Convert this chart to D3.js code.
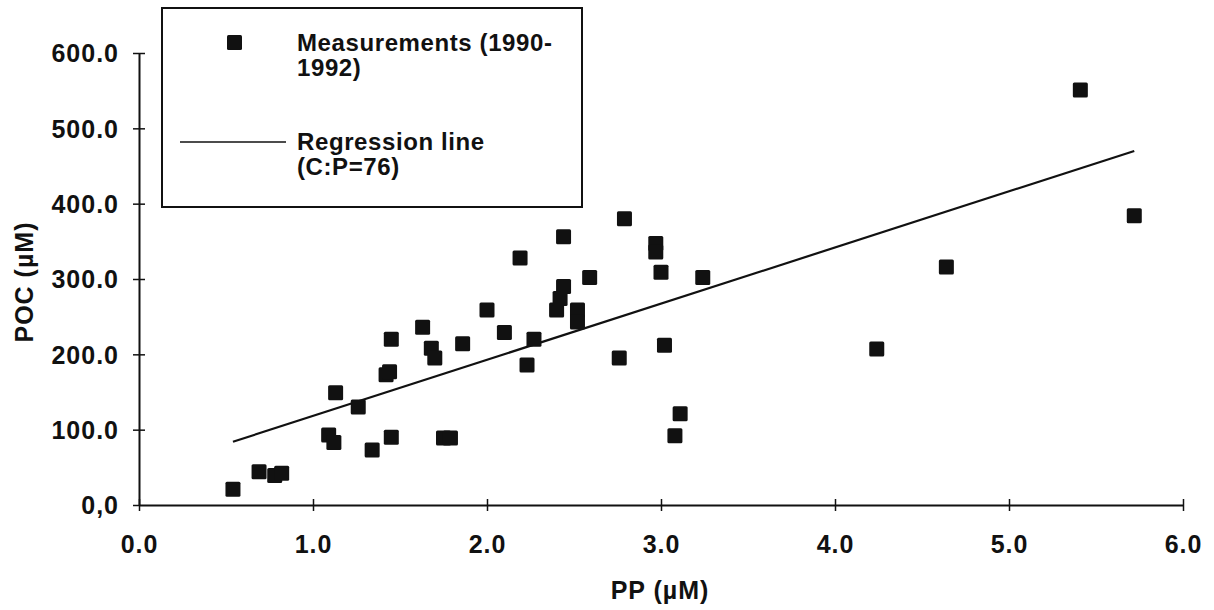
<!DOCTYPE html>
<html>
<head>
<meta charset="utf-8">
<script src="https://cdn.jsdelivr.net/npm/d3@7"></script>
<style>
  body { margin: 0; background: #fff; }
  text { font-family: "Liberation Sans", Arial, sans-serif; font-weight: bold; fill: #111; }
</style>
</head>
<body>
<div id="vis"></div>
<script>
const width = 1214;
const height = 610;

// measured PP (µM) and POC (µM), 1990-1992
const pp  = [0.54, 0.69, 0.78, 0.82, 1.09, 1.12, 1.13, 1.26, 1.34, 1.42, 1.44, 1.45, 1.45, 1.63, 1.68,
             1.70, 1.75, 1.79, 1.86, 2.00, 2.10, 2.19, 2.23, 2.27, 2.40, 2.42, 2.44, 2.44, 2.52, 2.52,
             2.59, 2.79, 2.76, 2.97, 2.97, 3.00, 3.02, 3.08, 3.11, 3.24, 4.24, 4.64, 5.41, 5.72];
const poc = [21, 44, 39, 42, 93, 83, 149, 130, 73, 173, 177, 90, 220, 236, 208,
             195, 89, 89, 214, 259, 229, 328, 186, 220, 259, 274, 290, 356, 259, 243,
             302, 380, 195, 347, 336, 309, 212, 92, 121, 302, 207, 316, 551, 384];

// regression line end points (C:P=76)
const regX = [0.54, 5.72];
const regY = [84, 470];

const xTicks = [0, 1, 2, 3, 4, 5, 6];
const xTickLabels = ["0.0", "1.0", "2.0", "3.0", "4.0", "5.0", "6.0"];
const yTicks = [0, 100, 200, 300, 400, 500, 600];
const yTickLabels = ["0,0", "100.0", "200.0", "300.0", "400.0", "500.0", "600.0"];

const svg = d3.select("#vis").append("svg")
  .attr("width", width)
  .attr("height", height);

const x = d3.scaleLinear().domain([0, 6]).range([139, 1183]);
const y = d3.scaleLinear().domain([0, 600]).range([505, 53]);

// axes (ticks cross the axis line)
const xAxis = svg.append("g")
  .attr("transform", `translate(0,${y(0)})`)
  .call(d3.axisBottom(x).tickValues(xTicks).tickFormat((d, i) => xTickLabels[i]).tickSize(6).tickSizeOuter(0));
xAxis.selectAll(".tick line").attr("y1", -6);
xAxis.selectAll(".tick text").attr("dy", 0).attr("y", 48)
  .style("font-size", "25px").style("letter-spacing", "1px");

const yAxis = svg.append("g")
  .attr("transform", `translate(${x(0)},0)`)
  .call(d3.axisLeft(y).tickValues(yTicks).tickFormat((d, i) => yTickLabels[i]).tickSize(6).tickSizeOuter(0));
yAxis.selectAll(".tick line").attr("x1", 6);
yAxis.selectAll(".tick text").attr("x", -20).attr("dy", "0.35em")
  .style("font-size", "25px").style("letter-spacing", "1px");
yAxis.select(".tick:first-of-type line").attr("x1", 0);

svg.selectAll(".domain").attr("stroke", "#111").attr("stroke-width", 2);
svg.selectAll(".tick line").attr("stroke", "#111").attr("stroke-width", 1.5);

// axis titles
svg.append("text")
  .attr("x", 660).attr("y", 599)
  .attr("text-anchor", "middle")
  .style("font-size", "25px").style("letter-spacing", "1px")
  .text("PP (µM)");

svg.append("text")
  .attr("transform", "translate(33,282) rotate(-90)")
  .attr("text-anchor", "middle")
  .style("font-size", "25px").style("letter-spacing", "1px")
  .text("POC (µM)");

// regression line
svg.append("line")
  .attr("x1", x(regX[0])).attr("y1", y(regY[0]))
  .attr("x2", x(regX[1])).attr("y2", y(regY[1]))
  .attr("stroke", "#111").attr("stroke-width", 2.2);

// measurements
const ms = 15;
svg.append("g").selectAll("rect")
  .data(pp.map((d, i) => [d, poc[i]]))
  .join("rect")
  .attr("x", d => x(d[0]) - ms / 2)
  .attr("y", d => y(d[1]) - ms / 2)
  .attr("width", ms).attr("height", ms)
  .attr("rx", 1.5)
  .attr("fill", "#111");

// legend
const lg = svg.append("g");
lg.append("rect")
  .attr("x", 162).attr("y", 8).attr("width", 420).attr("height", 199)
  .attr("fill", "#fff").attr("stroke", "#111").attr("stroke-width", 2);
lg.append("rect")
  .attr("x", 227).attr("y", 35).attr("width", ms).attr("height", ms)
  .attr("rx", 1.5).attr("fill", "#111");
lg.append("line")
  .attr("x1", 180).attr("x2", 286).attr("y1", 142).attr("y2", 142)
  .attr("stroke", "#111").attr("stroke-width", 1.5);
const legText = [["Measurements (1990-", 51], ["1992)", 76], ["Regression line", 150], ["(C:P=76)", 175]];
lg.selectAll("text.leg")
  .data(legText)
  .join("text")
  .attr("class", "leg")
  .attr("x", 297)
  .attr("y", d => d[1])
  .style("font-size", "24px").style("letter-spacing", "0.6px")
  .text(d => d[0]);
</script>
</body>
</html>
